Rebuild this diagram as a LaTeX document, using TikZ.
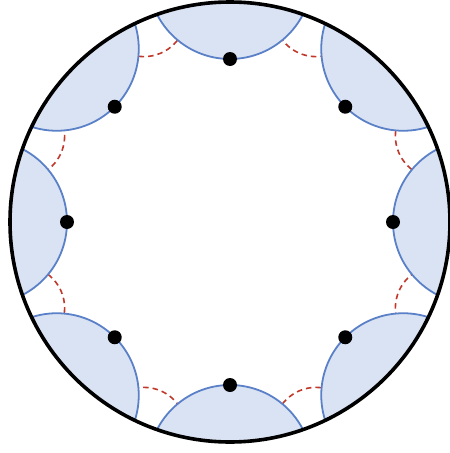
\documentclass[tikz,border=0pt]{standalone}
\usetikzlibrary{calc}
\definecolor{bfill}{HTML}{DAE3F3}
\definecolor{bline}{HTML}{5A80C8}
\definecolor{rdash}{HTML}{C0392B}
\begin{document}
\begin{tikzpicture}[x=1pt,y=-1pt,
  blueball/.style={fill=bfill},
  blueedge/.style={draw=bline,line width=1.8pt},
  geo/.style={draw=rdash,line width=1.6pt,dash pattern=on 5.5pt off 4pt},
  dotnode/.style={circle,fill=black,inner sep=0pt,minimum size=14pt},
  rim/.style={draw=black,line width=3.6pt}]
\useasboundingbox (0,0) rectangle (450,453);
\coordinate (O) at (230,222);
\begin{scope}
  \clip (O) circle (220);
  \foreach \k in {0,...,7} {
    \draw[geo] ($(O)+(112.5+45*\k:225)$) circle (42.5);
  }
  \foreach \k in {0,...,7} {
    \fill[blueball] ($(O)+(90+45*\k:245)$) circle (82);
  }
  \foreach \k in {0,...,7} {
    \draw[blueedge] ($(O)+(90+45*\k:245)$) circle (82);
  }
\end{scope}
\draw[rim] (O) circle (220);
\foreach \k in {0,...,7} {
  \node[dotnode] (d\k) at ($(O)+(90+45*\k:163)$) {};
}
\end{tikzpicture}
\end{document}
